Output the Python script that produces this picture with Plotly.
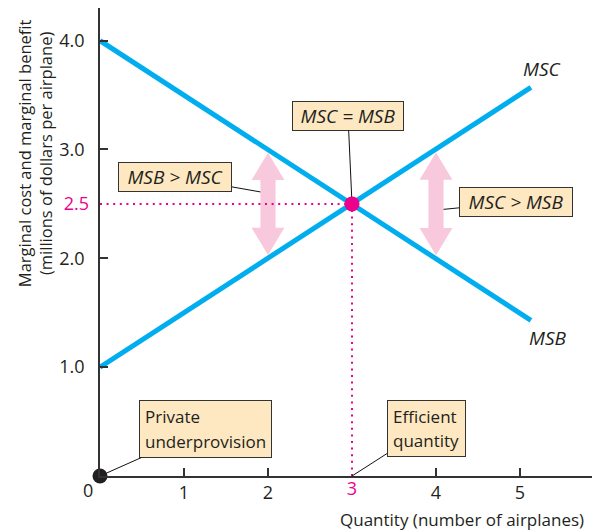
import numpy as np
import plotly.graph_objects as go

# ---- data ----
quantity = [0, 3, 5.13]           # number of airplanes
msc = [1.0, 2.5, 3.57]            # marginal social cost ($ millions)
msb = [4.0, 2.5, 1.43]            # marginal social benefit ($ millions)
eff_q = 3
eff_p = 2.5
private_q = 0
private_p = 0
x_ticks = [1, 2, 4, 5]
y_ticks = [1, 2, 3, 4]
y_tick_text = ["1.0", "2.0", "3.0", "4.0"]
arrow_x = [2, 4]                  # positions of the gap arrows

# ---- styles ----
CYAN = "#00aeef"
MAG = "#ec008c"
PINK = "#f8c8dc"
BOX = "#fde8c2"
AX = "#333333"
TXT = "#231f20"
FONT = "Open Sans"

XR = [0, 5.857]
YR = [0, 4.30]

fig = go.Figure()

# pink double arrows (between the two curves)
HL, HW, SW, INSET = 0.25, 0.195, 0.09, 0.03
for ax_ in arrow_x:
    a = float(np.interp(ax_, quantity, msc))
    b = float(np.interp(ax_, quantity, msb))
    top, bot = max(a, b) - INSET, min(a, b) + INSET
    xs = [ax_, ax_ + HW, ax_ + SW, ax_ + SW, ax_ + HW, ax_, ax_ - HW, ax_ - SW, ax_ - SW, ax_ - HW, ax_]
    ys = [top, top - HL, top - HL, bot + HL, bot + HL, bot, bot + HL, bot + HL, top - HL, top - HL, top]
    fig.add_trace(go.Scatter(x=xs, y=ys, fill="toself", fillcolor=PINK, mode="lines",
                             line=dict(width=0, color=PINK), hoverinfo="skip", showlegend=False))

# curves
fig.add_trace(go.Scatter(x=quantity, y=msc, mode="lines", line=dict(color=CYAN, width=5),
                         showlegend=False, name="MSC"))
fig.add_trace(go.Scatter(x=quantity, y=msb, mode="lines", line=dict(color=CYAN, width=5),
                         showlegend=False, name="MSB"))

# dotted guide lines (on overlay axes that carry the magenta tick labels)
fig.add_trace(go.Scatter(x=[XR[0], eff_q], y=[eff_p, eff_p], mode="lines", xaxis="x2", yaxis="y2",
                         line=dict(color=MAG, width=2, dash="2px,4.6px"), showlegend=False))
fig.add_trace(go.Scatter(x=[eff_q, eff_q], y=[YR[0], eff_p], mode="lines", xaxis="x2", yaxis="y2",
                         line=dict(color=MAG, width=2, dash="2px,4.6px"), showlegend=False))

# points
fig.add_trace(go.Scatter(x=[eff_q], y=[eff_p], mode="markers", marker=dict(color=MAG, size=15),
                         showlegend=False, cliponaxis=False))
fig.add_trace(go.Scatter(x=[private_q], y=[private_p], mode="markers", marker=dict(color="#231f20", size=15),
                         showlegend=False, cliponaxis=False))

ann = []
# curve labels
ann.append(dict(x=quantity[-1], y=msc[-1], xref="x", yref="y", text="<i>MSC</i>", showarrow=False,
                xshift=11, yshift=18, font=dict(family=FONT, size=19, color=TXT)))
ann.append(dict(x=quantity[-1], y=msb[-1], xref="x", yref="y", text="<i>MSB</i>", showarrow=False,
                xshift=17, yshift=-18, font=dict(family=FONT, size=19, color=TXT)))


def box(x, y, text, ax, ay, w, h, pad=2, standoff=0, align="center", size=19):
    ann.append(dict(x=x, y=y, xref="x", yref="y", text=text, showarrow=True, arrowhead=0,
                    arrowwidth=1, arrowcolor="#111", ax=ax, ay=ay, standoff=standoff,
                    bgcolor=BOX, bordercolor=AX, borderwidth=1, borderpad=pad,
                    width=w, height=h, align=align,
                    font=dict(family=FONT, size=size, color=TXT)))


box(eff_q, eff_p, "<i>MSC = MSB</i>", -4, -88, 106, 24, standoff=7)
box(arrow_x[0] - SW, 2.61, "<i>MSB &gt; MSC</i>", -85, -15, 108, 24)
box(arrow_x[1] + SW, 2.45, "<i>MSC &gt; MSB</i>", 72, -7, 108, 24)
S = "<span style='font-size:17px'>%s</span>"
box(private_q, private_p, (S % "Private") + "<br>" + (S % "underprovision"), 105.5, -47, 121, 46,
    pad=5, standoff=7, align="left", size=19)
box(eff_q, 0, (S % "Efficient") + "<br>" + (S % "quantity"), 74, -47.5, 67, 45,
    pad=5, align="left", size=19)

# axis titles and origin label
ann.append(dict(x=-0.132, y=0.69, xref="paper", yref="paper", textangle=-90, showarrow=False,
                xanchor="center", yanchor="middle",
                text="Marginal cost and marginal benefit<br>(millions of dollars per airplane)",
                font=dict(family=FONT, size=16.5, color=TXT)))
ann.append(dict(x=0.988, y=-0.094, xref="paper", yref="paper", xanchor="right", yanchor="middle",
                showarrow=False, text="Quantity (number of airplanes)",
                font=dict(family=FONT, size=17, color=TXT)))
ann.append(dict(x=0, y=0, xref="x", yref="y", text="0", showarrow=False, xshift=-12, yshift=-14,
                font=dict(family=FONT, size=18, color=TXT)))

axis_common = dict(showgrid=False, zeroline=False, ticks="inside", ticklen=8, tickcolor=AX,
                   tickwidth=1.5, showline=True, linecolor=AX, linewidth=1.5,
                   tickfont=dict(family=FONT, size=18, color=TXT))

fig.update_layout(
    width=596, height=530,
    margin=dict(l=100, r=4, t=8, b=54),
    plot_bgcolor="white", paper_bgcolor="white",
    xaxis=dict(range=XR, tickvals=x_ticks, ticktext=[str(v) for v in x_ticks], **axis_common),
    yaxis=dict(range=YR, tickvals=y_ticks, ticktext=y_tick_text, ticklabelstandoff=10, **axis_common),
    xaxis2=dict(range=XR, overlaying="x", side="bottom", tickvals=[eff_q], ticktext=[str(eff_q)],
                ticks="", showline=False, showgrid=False, zeroline=False,
                tickfont=dict(family=FONT, size=18, color=MAG)),
    yaxis2=dict(range=YR, overlaying="y", side="left", tickvals=[eff_p], ticktext=["2.5"],
                ticks="", showline=False, showgrid=False, zeroline=False, ticklabelstandoff=10,
                tickfont=dict(family=FONT, size=18, color=MAG)),
    annotations=ann,
    showlegend=False,
)

fig.write_html("out.html", config={"displayModeBar": False},
               post_script="document.body.style.margin='0px';")
